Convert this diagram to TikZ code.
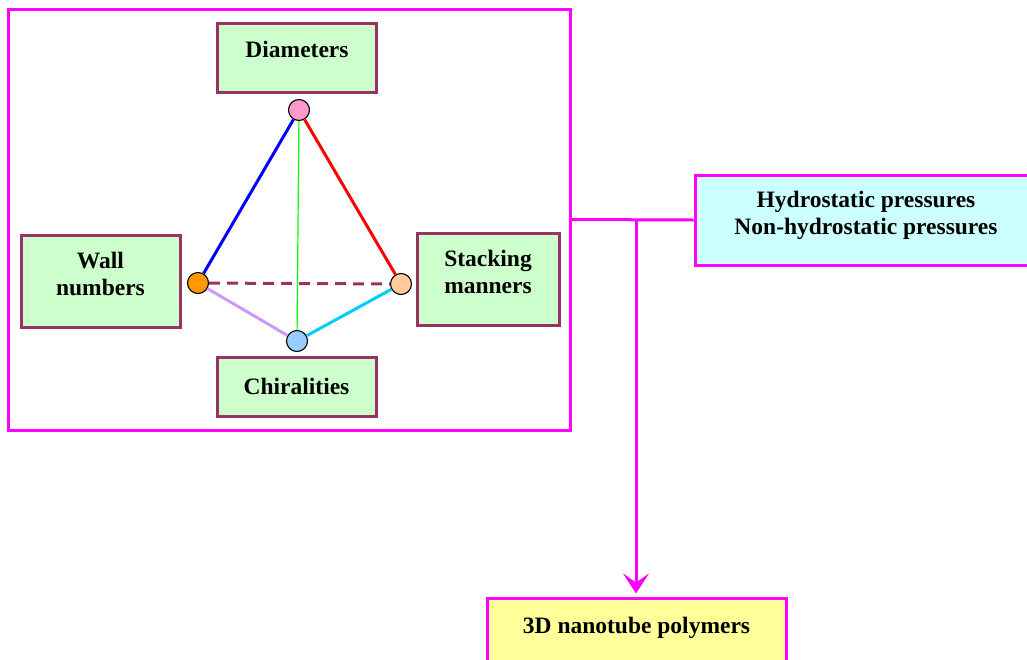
\documentclass[tikz,border=0pt]{standalone}
\usepackage{fontspec}
\setmainfont{Liberation Serif}
\usepackage{tikz}
\usetikzlibrary{arrows.meta, positioning, calc}
\definecolor{framemag}{RGB}{255,0,255}
\definecolor{boxplum}{RGB}{153,51,102}
\definecolor{boxgreen}{RGB}{204,255,204}
\definecolor{boxcyan}{RGB}{204,255,255}
\definecolor{boxyellow}{RGB}{255,255,153}
\definecolor{dotpink}{RGB}{255,153,204}
\definecolor{dotorange}{RGB}{255,153,0}
\definecolor{dotpeach}{RGB}{255,204,153}
\definecolor{dotblue}{RGB}{153,204,255}
\definecolor{edgelav}{RGB}{204,153,255}
\definecolor{edgecyan}{RGB}{0,204,255}
\definecolor{edgegreen}{RGB}{0,255,0}

\begin{document}
\begin{tikzpicture}[
        x=1pt, y=-1pt,
        factor/.style={rectangle, draw=boxplum, line width=3pt, fill=boxgreen, minimum width=159pt, inner sep=0pt, align=center, font=\fontsize{23.5}{27}\selectfont\bfseries},
        twoline/.style={text depth=15pt},
        oneline/.style={text height=16pt, text depth=16pt},
        vertex/.style={circle, draw=black, line width=1.1pt, minimum size=21pt, inner sep=0pt},
        edge/.style={line width=3pt},
        magline/.style={line width=3pt, framemag},
        arrow/.style={-{Stealth[length=20pt, width=26pt, inset=9pt]}, line width=3pt, framemag}
    ]
        \useasboundingbox (0,0) rectangle (1027,659);

        % grouping frame
        \node[draw=framemag, line width=3pt, minimum width=562pt, minimum height=421pt, inner sep=0pt] (group) at (289,219.5) {};

        \node[factor, oneline, minimum height=69pt]              (diam)  at (297,57.5)  {Diameters};
        \node[factor, twoline, minimum height=92pt]              (wall)  at (100.5,281) {Wall\\numbers};
        \node[factor, twoline, minimum height=92pt, minimum width=142pt] (stack) at (488,279) {Stacking\\manners};
        \node[factor, minimum height=59pt]                       (chir)  at (296.5,386.5) {Chiralities};

        % tetrahedron
        \node[vertex, fill=dotpink]   (vtop)   at (299,110) {};
        \node[vertex, fill=dotorange] (vleft)  at (198,283) {};
        \node[vertex, fill=dotpeach]  (vright) at (401,284) {};
        \node[vertex, fill=dotblue]   (vbot)   at (297,341) {};

        \draw[edge, blue]   (vtop)  -- (vleft);
        \draw[edge, red]    (vtop)  -- (vright);
        \draw[line width=1.2pt, edgegreen] (vtop) -- (vbot);
        \draw[edge, edgelav]  (vleft)  -- (vbot);
        \draw[edge, edgecyan] (vright) -- (vbot);
        \draw[edge, boxplum, dash pattern=on 11pt off 7pt] (vleft) -- (vright);

        % pressure and result
        \node[factor, twoline, fill=boxcyan, draw=framemag, minimum width=342pt, minimum height=90pt] (press) at (866,220) {Hydrostatic pressures\\Non-hydrostatic pressures};
        \node[factor, oneline, fill=boxyellow, draw=framemag, minimum width=299pt, minimum height=70pt] (poly) at (636.5,633) {3D nanotube polymers};

        \coordinate (split) at (636,220);
        \draw[magline] (group.east) -- (press.west);
        \draw[arrow, shorten >=3pt] (split) -- (split |- poly.north);
    \end{tikzpicture}
\end{document}
